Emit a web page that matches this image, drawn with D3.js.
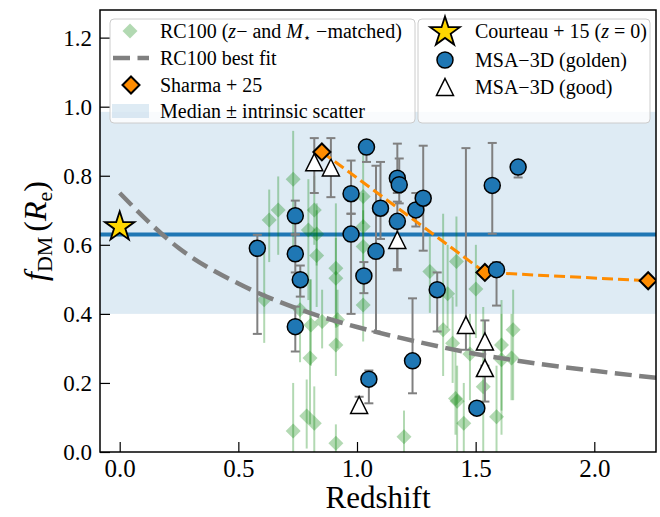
<!DOCTYPE html>
<html lang="en">
<head>
<meta charset="UTF-8" />
<script src="https://d3js.org/d3.v7.min.js"></script>
<style>
  body { margin: 0; background: #fff; }
  svg text { font-family: "Liberation Serif", "DejaVu Serif", serif; }
</style>
</head>
<body>
<script>
// ---- data ----
// RC100 (z- and M*-matched)
const rcZ  = [0.731, 0.668, 0.630, 0.820, 0.795, 0.830, 0.830, 0.911, 0.911, 0.609, 0.760, 0.806, 0.853, 0.918, 0.911, 0.802, 0.788, 0.820, 0.731, 0.911,
              1.026, 1.026, 1.026, 1.026, 1.307, 1.419, 1.501, 1.382, 1.363, 1.403, 1.476, 1.415, 1.422, 1.450, 1.198, 1.658, 1.609, 1.651, 1.609, 1.532, 1.588]
const rcF  = [0.790, 0.701, 0.672, 0.701, 0.643, 0.631, 0.569, 0.532, 0.503, 0.441, 0.412, 0.368, 0.378, 0.383, 0.310, 0.272, 0.104, 0.083, 0.061, 0.025,
              0.740, 0.653, 0.595, 0.426, 0.523, 0.552, 0.472, 0.458, 0.354, 0.315, 0.284, 0.155, 0.147, 0.083, 0.044, 0.354, 0.310, 0.272, 0.267, 0.189, 0.102]
const rcLo = [0.56, 0.571, 0.55, 0.60, 0.44, 0.54, 0.42, 0.40, 0.36, 0.316, 0.26, 0.25, 0.30, 0.30, 0.22, 0.08, 0.01, 0.0, 0.0, 0.0,
              0.66, 0.55, 0.50, 0.32, 0.403, 0.421, 0.33, 0.36, 0.22, 0.20, 0.15, 0.05, 0.0, 0.0, 0.0, 0.15, 0.05, 0.15, 0.12, 0.0, 0.0]
const rcHi = [0.93, 0.798, 0.76, 0.80, 0.79, 0.72, 0.70, 0.72, 0.62, 0.577, 0.50, 0.50, 0.47, 0.47, 0.40, 0.50, 0.21, 0.19, 0.20, 0.08,
              0.87, 0.75, 0.70, 0.53, 0.624, 0.682, 0.60, 0.60, 0.69, 0.45, 0.40, 0.30, 0.25, 0.20, 0.12, 0.47, 0.44, 0.40, 0.40, 0.42, 0.25]

// RC100 best fit (sampled along the drawn curve)
const fitZ = [0, 0.25, 0.5, 0.75, 1.0, 1.25, 1.5, 1.75, 2.0, 2.26]
const fitF = [0.75, 0.59, 0.488, 0.415, 0.362, 0.32, 0.284, 0.257, 0.235, 0.215]

// Sharma+25
const sharmaZ = [0.852, 1.539, 2.227]
const sharmaF = [0.869, 0.52, 0.496]

// Courteau+15 (z=0)
const courteauZ = [0]
const courteauF = [0.655]

// MSA-3D golden
const goldZ  = [0.58, 0.74, 0.74, 0.761, 0.74, 0.975, 0.975, 1.04, 1.099, 1.08, 1.029, 1.17, 1.178, 1.17, 1.248, 1.279, 1.338, 1.234, 1.05, 1.505, 1.57, 1.679, 1.588]
const goldF  = [0.59, 0.684, 0.574, 0.499, 0.363, 0.748, 0.631, 0.883, 0.706, 0.581, 0.51, 0.793, 0.774, 0.668, 0.701, 0.735, 0.47, 0.264, 0.211, 0.127, 0.772, 0.825, 0.528]
const goldLo = [0.342, 0.63, 0.52, 0.45, 0.291, 0.69, 0.40, 0.84, 0.617, 0.349, 0.46, 0.75, 0.72, 0.526, 0.653, 0.583, 0.349, 0.170, 0.141, 0.11, 0.632, 0.795, 0.424]
const goldHi = [0.629, 0.728, 0.63, 0.54, 0.421, 0.844, 0.69, 0.90, 0.84, 0.829, 0.55, 0.893, 0.85, 0.725, 0.75, 0.887, 0.52, 0.445, 0.236, 0.14, 0.895, 0.84, 0.55]

// MSA-3D good
const goodZ  = [0.82, 0.89, 1.17, 1.459, 1.009, 1.539, 1.539]
const goodF  = [0.839, 0.824, 0.614, 0.368, 0.136, 0.320, 0.243]
const goodLo = [0.75, 0.738, 0.53, 0.296, 0.114, 0.25, 0.146]
const goodHi = [0.909, 0.909, 0.66, 0.880, 0.16, 0.381, 0.30]

// median +/- intrinsic scatter
const medianF = 0.63
const scatterBand = [0.40, 0.985]

const xTicks = [0, 0.5, 1.0, 1.5, 2.0]
const yTicks = [0, 0.2, 0.4, 0.6, 0.8, 1.0, 1.2]

// ---- layout ----
const width = 660, height = 517
const L = 100, R = 656, T = 10, B = 452

const svg = d3.select('body').append('svg').attr('width', width).attr('height', height)

const x = d3.scaleLinear().domain([-0.083, 2.26]).range([L, R])
const y = d3.scaleLinear().domain([0, 1.28]).range([B, T])

svg.append('clipPath').attr('id', 'clip')
  .append('rect').attr('x', L).attr('y', T).attr('width', R - L).attr('height', B - T)

const plot = svg.append('g').attr('clip-path', 'url(#clip)')

const zip = (a, b, c, d) => a.map((v, i) => ({ z: v, f: b[i], lo: c ? c[i] : null, hi: d ? d[i] : null }))
const rc = zip(rcZ, rcF, rcLo, rcHi)
const gold = zip(goldZ, goldF, goldLo, goldHi)
const good = zip(goodZ, goodF, goodLo, goodHi)
const sharma = zip(sharmaZ, sharmaF)
const fit = zip(fitZ, fitF)

const diamond = s => `M0,${-s}L${s},0L0,${s}L${-s},0Z`
const triangle = s => `M0,${-s}L${s},${s}L${-s},${s}Z`

// band + median
plot.append('rect')
  .attr('x', L).attr('width', R - L)
  .attr('y', y(scatterBand[1])).attr('height', y(scatterBand[0]) - y(scatterBand[1]))
  .attr('fill', '#1f77b4').attr('opacity', 0.15)
plot.append('line')
  .attr('x1', L).attr('x2', R).attr('y1', y(medianF)).attr('y2', y(medianF))
  .attr('stroke', '#1f77b4').attr('stroke-width', 4)

// RC100 points
plot.selectAll('.rcerr').data(rc).enter().append('line')
  .attr('x1', d => x(d.z)).attr('x2', d => x(d.z))
  .attr('y1', d => y(d.lo)).attr('y2', d => y(d.hi))
  .attr('stroke', 'green').attr('stroke-opacity', 0.3).attr('stroke-width', 2)
plot.selectAll('.rc').data(rc).enter().append('path')
  .attr('d', diamond(7.5))
  .attr('transform', d => `translate(${x(d.z)},${y(d.f)})`)
  .attr('fill', 'green').attr('fill-opacity', 0.3)

// best fit
const line = d3.line().x(d => x(d.z)).y(d => y(d.f)).curve(d3.curveMonotoneX)
plot.append('path').datum(fit).attr('d', line)
  .attr('fill', 'none').attr('stroke', 'gray').attr('stroke-width', 4.5)
  .attr('stroke-dasharray', '17,7.5')

// gray error bars for MSA-3D
function errbars(data) {
  const g = plot.append('g').attr('stroke', 'gray').attr('stroke-width', 2)
  g.selectAll('.v').data(data).enter().append('line')
    .attr('x1', d => x(d.z)).attr('x2', d => x(d.z))
    .attr('y1', d => y(d.lo)).attr('y2', d => y(d.hi))
  g.selectAll('.c1').data(data).enter().append('line')
    .attr('x1', d => x(d.z) - 4.5).attr('x2', d => x(d.z) + 4.5)
    .attr('y1', d => y(d.lo)).attr('y2', d => y(d.lo))
  g.selectAll('.c2').data(data).enter().append('line')
    .attr('x1', d => x(d.z) - 4.5).attr('x2', d => x(d.z) + 4.5)
    .attr('y1', d => y(d.hi)).attr('y2', d => y(d.hi))
}
errbars(gold)
errbars(good)

// triangles (good)
plot.selectAll('.good').data(good).enter().append('path')
  .attr('d', triangle(8.5))
  .attr('transform', d => `translate(${x(d.z)},${y(d.f)})`)
  .attr('fill', 'white').attr('stroke', 'black').attr('stroke-width', 1.5)

// Sharma+25
plot.append('path').datum(sharma).attr('d', d3.line().x(d => x(d.z)).y(d => y(d.f)))
  .attr('fill', 'none').attr('stroke', 'darkorange').attr('stroke-width', 3)
  .attr('stroke-dasharray', '11,5')
plot.selectAll('.sh').data(sharma).enter().append('path')
  .attr('d', diamond(8.5))
  .attr('transform', d => `translate(${x(d.z)},${y(d.f)})`)
  .attr('fill', 'darkorange').attr('stroke', 'black').attr('stroke-width', 2)

// golden circles
plot.selectAll('.gold').data(gold).enter().append('circle')
  .attr('cx', d => x(d.z)).attr('cy', d => y(d.f)).attr('r', 8)
  .attr('fill', '#1f77b4').attr('stroke', 'black').attr('stroke-width', 1.5)

// Courteau star
const star = d3.symbol().type(d3.symbolStar).size(270)
plot.selectAll('.star').data(zip(courteauZ, courteauF)).enter().append('path')
  .attr('d', star)
  .attr('transform', d => `translate(${x(d.z)},${y(d.f) + 1})`)
  .attr('fill', 'gold').attr('stroke', 'black').attr('stroke-width', 1.8)

// ---- axes ----
const xAxis = svg.append('g').attr('transform', `translate(0,${B})`)
  .call(d3.axisBottom(x).tickValues(xTicks).tickFormat(d3.format('.1f')).tickSize(-10).tickPadding(7))
const yAxis = svg.append('g').attr('transform', `translate(${L},0)`)
  .call(d3.axisLeft(y).tickValues(yTicks).tickFormat(d3.format('.1f')).tickSize(-10).tickPadding(8))
for (const ax of [xAxis, yAxis]) {
  ax.select('.domain').remove()
  ax.selectAll('.tick line').attr('stroke', 'black').attr('stroke-width', 1.2)
}
xAxis.selectAll('.tick text').attr('font-size', 25).attr('fill', 'black')
  .attr('font-family', 'Liberation Serif')
yAxis.selectAll('.tick text').attr('font-size', 23).attr('fill', 'black')
  .attr('font-family', 'DejaVu Serif')

svg.append('rect').attr('x', L).attr('y', T).attr('width', R - L).attr('height', B - T)
  .attr('fill', 'none').attr('stroke', 'black').attr('stroke-width', 1.5)

// axis labels
svg.append('text').attr('x', (L + R) / 2).attr('y', 508).attr('text-anchor', 'middle')
  .attr('font-size', 31).text('Redshift')

const yl = svg.append('text').attr('transform', `translate(46,${(T + B) / 2}) rotate(-90)`)
  .attr('text-anchor', 'middle').attr('font-size', 32)
yl.append('tspan').attr('font-style', 'italic').text('f')
yl.append('tspan').attr('font-size', 22).attr('dy', 6).text('DM')
yl.append('tspan').attr('dy', -6).attr('dx', 5).text('(')
yl.append('tspan').attr('font-style', 'italic').text('R')
yl.append('tspan').attr('font-size', 22).attr('dy', 6).text('e')
yl.append('tspan').attr('dy', -6).text(')')

// ---- legends ----
function richText(g, tx, ty, parts) {
  const t = g.append('text').attr('x', tx).attr('y', ty).attr('font-size', 20)
  parts.forEach(p => {
    const s = t.append('tspan').text(p.t)
    if (p.i) s.attr('font-style', 'italic')
    if (p.sub) s.attr('font-size', 13).attr('dy', 4).attr('font-family', 'DejaVu Sans')
    if (p.up) s.attr('dy', -4)
  })
}

const leg1 = svg.append('g')
leg1.append('rect').attr('x', 110).attr('y', 19).attr('width', 305).attr('height', 104).attr('rx', 4)
  .attr('fill', 'white').attr('fill-opacity', 0.8).attr('stroke', '#cccccc')
const rows1 = [31, 58, 85, 111]
leg1.append('path').attr('d', diamond(7.5)).attr('transform', `translate(130,${rows1[0]})`)
  .attr('fill', 'green').attr('fill-opacity', 0.3)
leg1.append('line').attr('x1', 113).attr('x2', 149).attr('y1', rows1[1]).attr('y2', rows1[1])
  .attr('stroke', 'gray').attr('stroke-width', 4.5).attr('stroke-dasharray', '17,7.5')
leg1.append('path').attr('d', diamond(8.5)).attr('transform', `translate(131,${rows1[2]})`)
  .attr('fill', 'darkorange').attr('stroke', 'black').attr('stroke-width', 2)
leg1.append('rect').attr('x', 112).attr('y', rows1[3] - 7).attr('width', 37).attr('height', 14)
  .attr('fill', '#1f77b4').attr('opacity', 0.15)
richText(leg1, 160, rows1[0] + 6.5, [{ t: 'RC100 (' }, { t: 'z', i: true }, { t: '\u2212 and ' }, { t: 'M', i: true }, { t: '\u22c6', sub: true }, { t: ' \u2212matched)', up: true }])
richText(leg1, 160, rows1[1] + 6.5, [{ t: 'RC100 best fit' }])
richText(leg1, 160, rows1[2] + 6.5, [{ t: 'Sharma + 25' }])
richText(leg1, 160, rows1[3] + 6.5, [{ t: 'Median \u00b1 intrinsic scatter' }])

const leg2 = svg.append('g')
leg2.append('rect').attr('x', 418).attr('y', 19).attr('width', 232).attr('height', 104).attr('rx', 4)
  .attr('fill', 'white').attr('fill-opacity', 0.8).attr('stroke', '#cccccc')
const rows2 = [31, 60, 87]
leg2.append('path').attr('d', star).attr('transform', `translate(445,${rows2[0] + 1})`)
  .attr('fill', 'gold').attr('stroke', 'black').attr('stroke-width', 1.8)
leg2.append('circle').attr('cx', 445).attr('cy', rows2[1]).attr('r', 8)
  .attr('fill', '#1f77b4').attr('stroke', 'black').attr('stroke-width', 1.5)
leg2.append('path').attr('d', triangle(8.5)).attr('transform', `translate(445,${rows2[2]})`)
  .attr('fill', 'white').attr('stroke', 'black').attr('stroke-width', 1.5)
richText(leg2, 475, rows2[0] + 6.5, [{ t: 'Courteau + 15 (' }, { t: 'z', i: true }, { t: ' = 0)' }])
richText(leg2, 475, rows2[1] + 6.5, [{ t: 'MSA\u22123D (golden)' }])
richText(leg2, 475, rows2[2] + 6.5, [{ t: 'MSA\u22123D (good)' }])
</script>
</body>
</html>
